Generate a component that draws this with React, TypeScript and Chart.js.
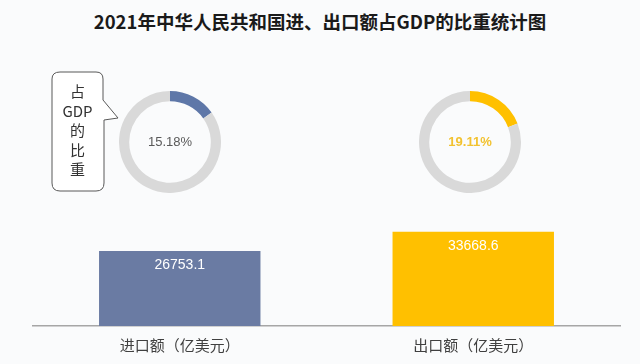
import React, { useEffect, useRef } from "react";
import { Chart, registerables } from "chart.js";

Chart.register(...registerables);

const titleText = "2021年中华人民共和国进、出口额占GDP的比重统计图";
const categories = ["进口额（亿美元）", "出口额（亿美元）"];
const tradeValues = [26753.1, 33668.6];
const gdpShares = [15.18, 19.11];
const barColors = ["#6A7BA3", "#FFC000"];
const ringColors = ["#5E77A8", "#FFC000"];
const shareTextColors = ["#595959", "#F2C230"];
const bubbleChars = ["占", "GDP", "的", "比", "重"];

const FONT = "'Noto Sans CJK SC', 'Noto Sans', sans-serif";
const NUMFONT = "'Liberation Sans', Arial, sans-serif";

function BarChart() {
  const ref = useRef<HTMLCanvasElement>(null);
  useEffect(() => {
    const valueLabels = {
      id: "valueLabels",
      afterDatasetsDraw(chart: any) {
        const ctx = chart.ctx;
        const meta = chart.getDatasetMeta(0);
        ctx.save();
        ctx.fillStyle = "#ffffff";
        ctx.font = `14px ${NUMFONT}`;
        ctx.textAlign = "center";
        ctx.textBaseline = "middle";
        meta.data.forEach((el: any, i: number) => {
          ctx.fillText(String(tradeValues[i]), el.x, el.y + 14);
        });
        ctx.restore();
      },
    };
    const chart = new Chart(ref.current!, {
      type: "bar",
      data: {
        labels: categories,
        datasets: [
          {
            data: tradeValues,
            backgroundColor: barColors,
            categoryPercentage: 1,
            barPercentage: 0.55,
          },
        ],
      },
      options: {
        animation: false,
        responsive: false,
        layout: { padding: { top: 214, left: 33, right: 20, bottom: 0 } },
        plugins: { legend: { display: false }, tooltip: { enabled: false } },
        scales: {
          x: {
            grid: { display: false, drawTicks: false },
            border: { display: true, color: "#A6A6A6", width: 1.5 },
            ticks: { color: "#404040", font: { size: 15, family: FONT }, padding: 10 },
          },
          y: { display: false, min: 0, max: 40000 },
        },
      },
      plugins: [valueLabels],
    });
    return () => chart.destroy();
  }, []);
  return (
    <canvas
      ref={ref}
      width={640}
      height={364}
      style={{ position: "absolute", left: 0, top: 0, width: 640, height: 364 }}
    />
  );
}

function Ring({ idx, cx, cy }: { idx: number; cx: number; cy: number }) {
  const ref = useRef<HTMLCanvasElement>(null);
  useEffect(() => {
    const centerText = {
      id: "centerText",
      afterDraw(chart: any) {
        const ctx = chart.ctx;
        const el = chart.getDatasetMeta(0).data[0];
        ctx.save();
        ctx.fillStyle = shareTextColors[idx];
        ctx.font = `${idx === 1 ? "bold " : ""}13px ${NUMFONT}`;
        ctx.textAlign = "center";
        ctx.textBaseline = "middle";
        ctx.fillText(gdpShares[idx].toFixed(2) + "%", el.x, el.y);
        ctx.restore();
      },
    };
    const chart = new Chart(ref.current!, {
      type: "doughnut",
      data: {
        labels: ["share", "rest"],
        datasets: [
          {
            data: [gdpShares[idx], 100 - gdpShares[idx]],
            backgroundColor: [ringColors[idx], "#D9D9D9"],
            borderWidth: 0,
          },
        ],
      },
      options: {
        animation: false,
        responsive: false,
        cutout: "80%",
        plugins: { legend: { display: false }, tooltip: { enabled: false } },
      },
      plugins: [centerText],
    });
    return () => chart.destroy();
  }, [idx]);
  return (
    <canvas
      ref={ref}
      width={102}
      height={102}
      style={{ position: "absolute", left: cx - 51, top: cy - 51, width: 102, height: 102 }}
    />
  );
}

function Bubble() {
  return (
    <div style={{ position: "absolute", left: 50, top: 70, width: 75, height: 126 }}>
      <svg width={75} height={126} style={{ position: "absolute", left: 0, top: 0 }}>
        <path
          d="M10 2 H46 Q53 2 53 9 V30 L68 48 L54 50 V113 Q54 121 46 121 H10 Q2 121 2 113 V9 Q2 2 10 2 Z"
          fill="#ffffff"
          stroke="#595959"
          strokeWidth={1}
        />
      </svg>
      {bubbleChars.map((c, i) => (
        <div
          key={i}
          style={{
            position: "absolute",
            left: 2,
            width: 51,
            top: 12 + i * 19.5,
            textAlign: "center",
            fontFamily: FONT,
            fontSize: 15,
            lineHeight: "18px",
            color: "#333333",
          }}
        >
          {c}
        </div>
      ))}
    </div>
  );
}

export default function App() {
  return (
    <div
      style={{
        position: "fixed",
        left: 0,
        top: 0,
        width: 640,
        height: 364,
        background: "#FAFBFC",
        overflow: "hidden",
      }}
    >
      <div
        style={{
          position: "absolute",
          left: 0,
          width: 640,
          top: 9,
          textAlign: "center",
          fontFamily: FONT,
          fontWeight: "bold",
          fontSize: 18.5,
          lineHeight: "24px",
          color: "#1a1a1a",
        }}
      >
        {titleText}
      </div>
      <BarChart />
      <Bubble />
      <Ring idx={0} cx={170} cy={142} />
      <Ring idx={1} cx={470} cy={142} />
    </div>
  );
}
